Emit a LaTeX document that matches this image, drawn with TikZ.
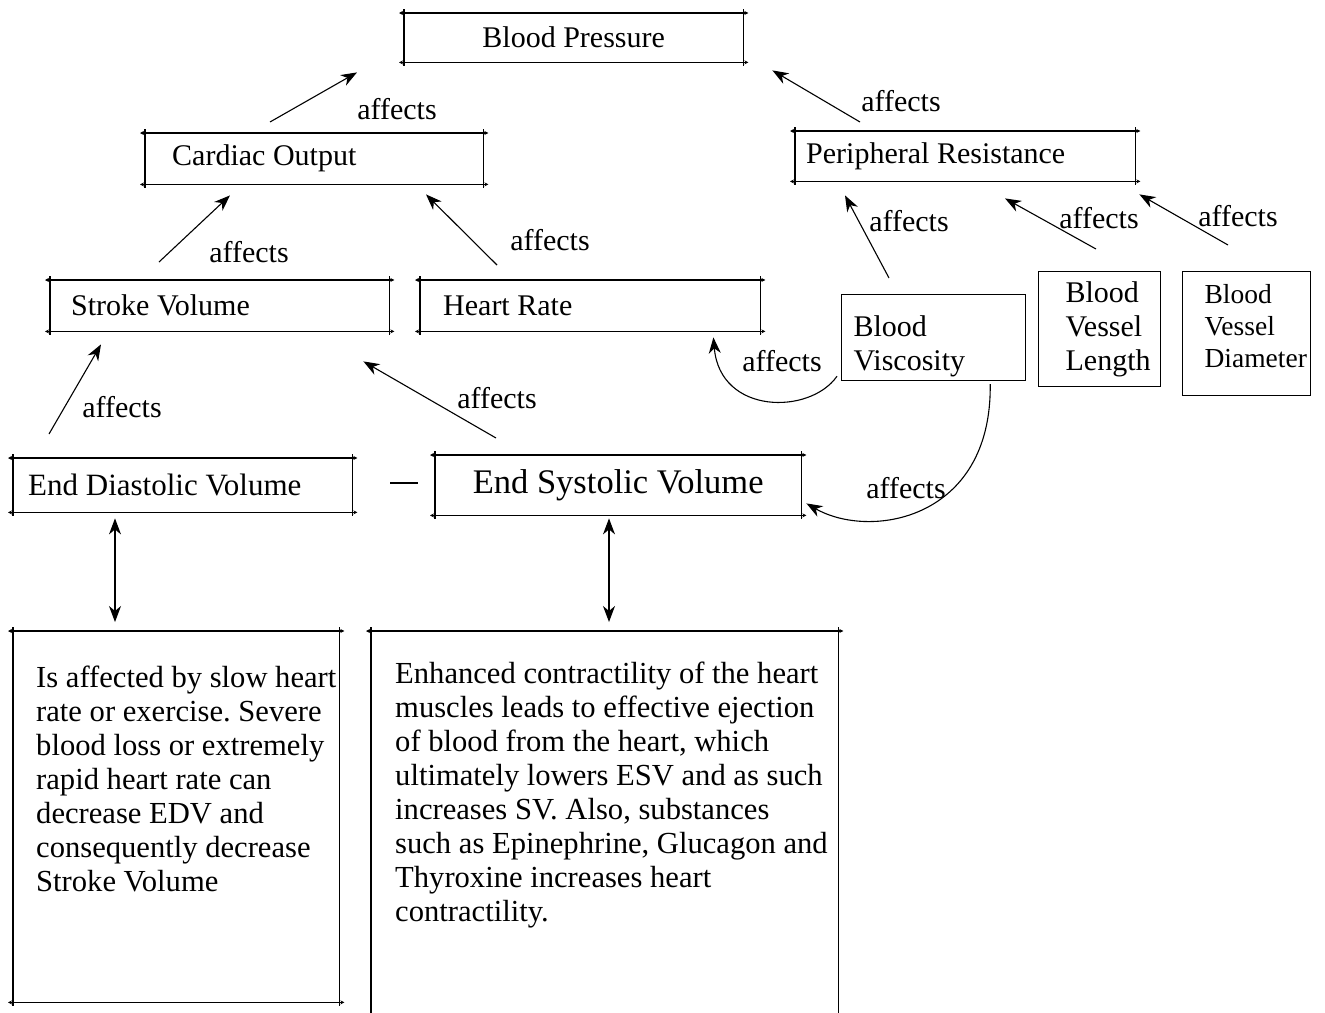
\documentclass[tikz,border=0pt]{standalone}
\usepackage{fontspec}
\setmainfont{Liberation Serif}
\usetikzlibrary{arrows.meta,calc}
\frenchspacing
\newcommand\tickframe[1]{%
  \draw[tick] ([xshift=-5pt]#1.north west) -- ([xshift=5pt]#1.north east);
  \draw[tick] ([xshift=-5pt]#1.south west) -- ([xshift=5pt]#1.south east);
  \draw[frameline] ([yshift=4pt]#1.north west) -- ([yshift=-4pt]#1.south west);
  \draw[frameline] ([yshift=4pt]#1.north east) -- ([yshift=-4pt]#1.south east);}
\newcommand\oneline[1]{\mbox{#1}\\}
\begin{document}
\begin{tikzpicture}[x=1pt,y=-1pt,
  every node/.style={font=\fontsize{30}{34}\selectfont\frenchspacing},
  box/.style={anchor=north west, inner ysep=0pt},
  tbox/.style={box, draw=none},
  pbox/.style={box, draw, line width=1.2pt, align=left},
  frameline/.style={line width=1.2pt},
  tick/.style={line width=1.2pt, {Stealth[length=4pt,width=4pt]}-{Stealth[length=4pt,width=4pt]}},
  arr/.style={line width=1.1pt, -{Stealth[length=16pt,width=12pt,inset=5pt]}},
  dbl/.style={line width=1.1pt, {Stealth[length=16pt,width=12pt,inset=5pt]}-{Stealth[length=16pt,width=12pt,inset=5pt]}},
  lbl/.style={inner sep=0pt},
  desc/.style={tbox, font=\fontsize{30.6}{34}\selectfont\frenchspacing}
]
\useasboundingbox (0,0) rectangle (1325,1012);

% boxes
\node[tbox, minimum width=339pt, minimum height=49pt, inner xsep=0pt] (bp) at (404,13) {Blood Pressure};
\node[tbox, minimum height=51pt, inner xsep=27pt] (co) at (145,133) {\makebox[284pt][l]{Cardiac Output}};
\node[tbox, minimum height=50pt, inner xsep=11pt] (pr) at (795,131) {\makebox[318pt][l]{Peripheral Resistance}};
\node[tbox, minimum height=51pt, inner xsep=21pt] (sv) at (50,280) {\makebox[297pt][l]{Stroke Volume}};
\node[tbox, minimum height=51pt, inner xsep=23pt] (hr) at (420,280) {\makebox[294pt][l]{Heart Rate}};
\node[pbox, minimum height=86pt, inner xsep=12pt, text width=160pt] (bv) at (841,294) {\rule{0pt}{39pt}Blood\\Viscosity};
\node[pbox, minimum height=115pt, inner xsep=27pt, text width=68pt] (bvl) at (1038,271) {Blood\\Vessel\\Length\rule[-6pt]{0pt}{0pt}};
\node[pbox, minimum height=124pt, inner xsep=22pt, text width=84pt, font=\fontsize{27.5}{32}\selectfont] (bvd) at (1182,271) {Blood\\Vessel\\Diameter\rule[-16pt]{0pt}{0pt}};
\node[tbox, minimum height=54pt, inner xsep=15pt, font=\fontsize{31}{34}\selectfont] (edv) at (13,458) {\makebox[309pt][l]{End Diastolic Volume}};
\node[tbox, minimum width=366pt, minimum height=60pt, inner xsep=0pt, font=\fontsize{34.5}{38}\selectfont] (esv) at (435,455) {End Systolic Volume};

\node[desc, inner xsep=23pt] (edvd) at (13,631) {\parbox[c][371pt][t]{280pt}{\raggedright\frenchspacing\vspace*{35pt}%
\oneline{Is affected by slow heart}
\oneline{rate or exercise. Severe}
\oneline{blood loss or extremely}
\oneline{rapid heart rate can}
\oneline{decrease EDV and}
\oneline{consequently decrease}
\mbox{Stroke Volume}}};
\node[desc, inner xsep=24pt] (esvd) at (371,631) {\parbox[c][385pt][t]{419pt}{\raggedright\frenchspacing\vspace*{31pt}%
\oneline{Enhanced contractility of the heart}
\oneline{muscles leads to effective ejection}
\oneline{of blood from the heart, which}
\oneline{ultimately lowers ESV and as such}
\oneline{increases SV. Also, substances}
\oneline{such as Epinephrine, Glucagon and}
\oneline{Thyroxine increases heart}
\mbox{contractility.}}};

\tickframe{bp}
\tickframe{co}
\tickframe{pr}
\tickframe{sv}
\tickframe{hr}
\tickframe{edv}
\tickframe{esv}
\tickframe{edvd}
\draw[tick] ([xshift=-5pt]esvd.north west) -- ([xshift=5pt]esvd.north east);
\draw[frameline] ([yshift=4pt]esvd.north west) -- (esvd.south west);
\draw[frameline] ([yshift=4pt]esvd.north east) -- (esvd.south east);

% connectors
\draw[arr] ($(co.north west)+(125,-11)$) -- ($(bp.south west)+(-47,10)$);
\draw[arr] ($(pr.north west)+(65,-9)$) -- ($(bp.south east)+(29,8)$);
\draw[arr] ($(sv.north west)+(109,-18)$) -- ($(co.south west)+(85,11)$);
\draw[arr] ($(hr.north west)+(77,-15)$) -- ($(co.south west)+(281,10)$);
\draw[arr] ($(edv.north west)+(36,-24)$) -- ($(sv.south west)+(51,13)$);
\draw[arr] ($(esv.north west)+(61,-17)$) -- ($(sv.south east)+(-26,30)$);
\draw[arr] ($(bv.north west)+(48,-16)$) -- ($(pr.south west)+(50,14)$);
\draw[arr] ($(bvl.north west)+(58,-22)$) -- ($(pr.south west)+(210,17)$);
\draw[arr] ($(bvd.north west)+(46,-26)$) -- ($(pr.south east)+(4,13)$);
\draw[arr] ($(bv.south west)+(-4,-5)$) .. controls (810,415) and (720,415) .. ($(hr.south east)+(-47,6)$);
\draw[arr] ($(bv.south east)+(-36,3)$) .. controls (992,520) and (870,540) .. ($(esv.south east)+(5,-12)$);
\draw[dbl] ($(edv.south west)+(102,6)$) -- ($(edvd.north west)+(102,-9)$);
\draw[dbl] ($(esv.south west)+(174,3)$) -- ($(esvd.north west)+(238,-9)$);
\coordinate (dashL) at (390,483);
\coordinate (dashR) at (418,483);
\draw[frameline] (dashL) -- (dashR);

% labels
\node[lbl] (l1) at (397,109) {affects};
\node[lbl] (l2) at (901,101) {affects};
\node[lbl] (l3) at (249,252) {affects};
\node[lbl] (l4) at (550,240) {affects};
\node[lbl] (l5) at (122,407) {affects};
\node[lbl] (l6) at (497,398) {affects};
\node[lbl] (l7) at (909,221) {affects};
\node[lbl] (l8) at (1099,218) {affects};
\node[lbl] (l9) at (1238,216) {affects};
\node[lbl] (l10) at (782,361) {affects};
\node[lbl] (l11) at (906,488) {affects};
\end{tikzpicture}
\end{document}
